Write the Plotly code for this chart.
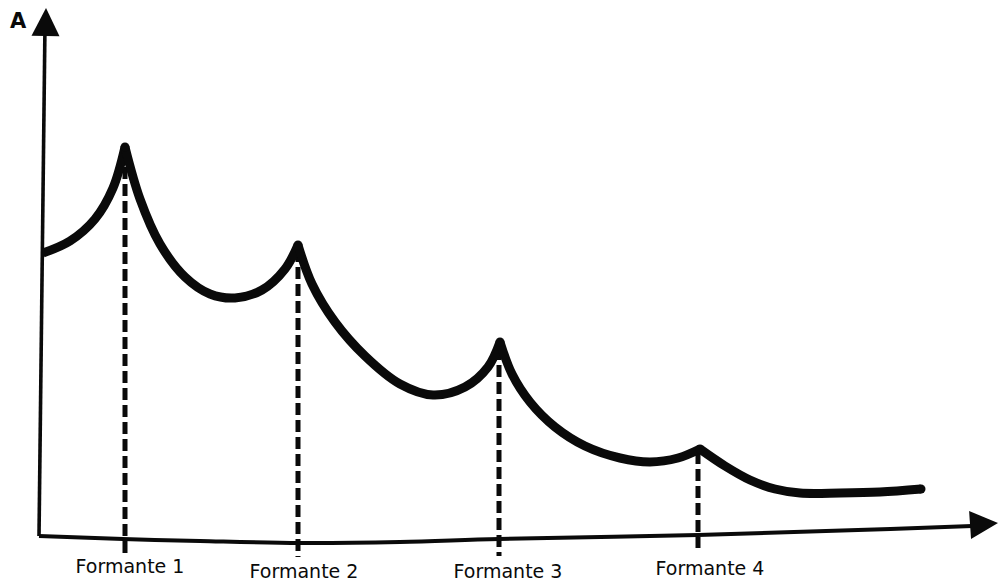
import plotly.graph_objects as go

# Spectral envelope (schematic), drawn as segments between formant peaks
seg0_x = [43, 70, 95, 113, 125]
seg0_a = [331, 343, 365, 396, 437]
seg1_x = [125, 140, 160, 185, 210, 235, 262, 285, 298]
seg1_a = [437, 385, 340, 307, 290, 286, 294, 315, 339]
seg2_x = [298, 312, 335, 365, 400, 433, 465, 488, 500]
seg2_a = [339, 300, 262, 228, 200, 189, 197, 217, 242]
seg3_x = [500, 512, 530, 555, 585, 620, 650, 678, 700]
seg3_a = [242, 210, 182, 157, 138, 126, 122, 126, 135]
seg4_x = [700, 725, 750, 775, 800, 840, 880, 921]
seg4_a = [135, 118, 104, 95, 91, 91, 92, 95]

# Formants
formant_labels = ["Formante 1", "Formante 2", "Formante 3", "Formante 4"]
formant_x = [125, 298, 499, 698]
formant_top = [434, 334, 236, 132]
formant_bottom = [29, 27, 28, 36]
label_x = [130, 304, 508, 710]
label_a = [16, 11, 11, 14]

# Axes (hand drawn)
xaxis_x = [39, 123, 200, 300, 400, 499, 698, 858, 972, 990]
xaxis_a = [48, 45, 43, 41, 42, 45, 49, 54, 58, 59]
yaxis_x = [39, 45]
yaxis_a = [48, 560]
arrow_x = [46, 998]
arrow_a = [576, 61]
arrow_sym = ["arrow-up", "arrow-right"]
arrow_ang = [1, -4]

fig = go.Figure()

black = "#0a0a0a"

# axes lines
fig.add_trace(go.Scatter(x=xaxis_x, y=xaxis_a, mode="lines",
                         line=dict(color=black, width=4, shape="spline"),
                         hoverinfo="skip", showlegend=False))
fig.add_trace(go.Scatter(x=yaxis_x, y=yaxis_a, mode="lines",
                         line=dict(color=black, width=3.6),
                         hoverinfo="skip", showlegend=False))
fig.add_trace(go.Scatter(x=arrow_x, y=arrow_a, mode="markers",
                         marker=dict(symbol=arrow_sym, size=28, color=black,
                                     angle=arrow_ang, line=dict(width=0)),
                         hoverinfo="skip", showlegend=False))

# dashed formant lines
for fx, ft, fb in zip(formant_x, formant_top, formant_bottom):
    fig.add_trace(go.Scatter(x=[fx, fx], y=[ft, fb], mode="lines",
                             line=dict(color=black, width=5, dash="12px,5px"),
                             hoverinfo="skip", showlegend=False))

# envelope
for sx, sa in [(seg0_x, seg0_a), (seg1_x, seg1_a), (seg2_x, seg2_a),
               (seg3_x, seg3_a), (seg4_x, seg4_a)]:
    fig.add_trace(go.Scatter(x=sx, y=sa, mode="lines",
                             line=dict(color=black, width=9, shape="spline", smoothing=1.0),
                             hoverinfo="skip", showlegend=False))

# rounded joins at peaks and end
join_x = [seg0_x[-1], seg1_x[-1], seg2_x[-1], seg3_x[-1], seg4_x[-1]]
join_a = [seg0_a[-1], seg1_a[-1], seg2_a[-1], seg3_a[-1], seg4_a[-1]]
fig.add_trace(go.Scatter(x=join_x, y=join_a, mode="markers",
                         marker=dict(size=9, color=black, line=dict(width=0)),
                         hoverinfo="skip", showlegend=False))

# labels
fig.add_trace(go.Scatter(x=label_x, y=label_a, mode="text", text=formant_labels,
                         textfont=dict(family="DejaVu Sans", size=19, color=black),
                         hoverinfo="skip", showlegend=False))
fig.add_annotation(x=18, y=563, text="<b>A</b>", showarrow=False,
                   font=dict(family="DejaVu Sans", size=21, color=black),
                   xref="x", yref="y")

fig.update_layout(
    width=998, height=584,
    margin=dict(l=0, r=0, t=0, b=0),
    paper_bgcolor="white", plot_bgcolor="white",
    xaxis=dict(range=[0, 998], visible=False, fixedrange=True),
    yaxis=dict(range=[0, 584], visible=False, fixedrange=True),
)

fig.write_html("out.html", config={"displayModeBar": False},
               post_script="document.body.style.margin='0';document.body.style.overflow='hidden';")
